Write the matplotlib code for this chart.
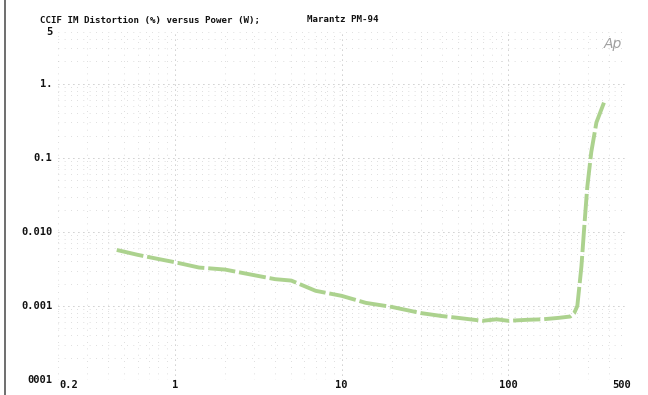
"""
CCIF IM distortion vs power, Marantz PM-94 -- redraw of a scanned Audio Precision plot.
"""

import matplotlib
matplotlib.use("Agg")
import matplotlib.pyplot as plt
from matplotlib.lines import Line2D

# ── Data ──────────────────────────────────────────────────────────────────────
power_w = [0.45, 0.6, 0.8, 1.0, 1.4, 2.0, 3.0, 4.0, 5.0, 7.0, 10.0, 14.0, 20.0,
           30.0, 40.0, 50.0, 70.0, 85.0, 100.0, 130.0, 160.0, 200.0, 235.0,
           248.0, 259.0, 274.0, 285.0, 297.0, 314.0, 337.0, 381.0]
distortion_pct = [0.0057, 0.0049, 0.0043, 0.0039, 0.0033, 0.0031, 0.0026, 0.0023,
                  0.0022, 0.0016, 0.00137, 0.0011, 0.00097, 0.0008, 0.00073,
                  0.00069, 0.00063, 0.00066, 0.00063, 0.00065, 0.00066, 0.00069,
                  0.00072, 0.0008, 0.001, 0.0034, 0.0117, 0.04, 0.12, 0.3, 0.62]

x_ticks = [0.2, 1, 10, 100, 500]
x_labels = ["0.2", "1", "10", "100", "500"]
y_ticks = [0.0001, 0.001, 0.01, 0.1, 1, 5]
y_labels = ["0001", "0.001", "0.010", "0.1", "1.", "5"]

title_left = "CCIF IM Distortion (%) versus Power (W);"
title_right = "Marantz PM-94"

# ── Figure ────────────────────────────────────────────────────────────────────
fig = plt.figure(figsize=(6.48, 3.95), dpi=100)
fig.patch.set_facecolor("white")
ax = fig.add_axes([58 / 648, 1 - 380 / 395, 567 / 648, 348 / 395])
ax.set_xscale("log")
ax.set_yscale("log")
ax.set_xlim(0.2, 500)
ax.set_ylim(0.0001, 5)
for s in ax.spines.values():
    s.set_visible(False)
ax.tick_params(which="both", length=0, labelleft=False, labelbottom=False)

# faint dotted grid, like the plotter's dot pattern
ax.grid(which="major", color="#9a9a9a", lw=0.6, ls=(0, (1, 5)))
ax.grid(which="minor", color="#c0c0c0", lw=0.5, ls=(0, (1, 8)))

ax.plot(power_w, distortion_pct, color="#acd28e", lw=2.8,
        ls=(0, (7, 1)), solid_capstyle="butt")

mono = dict(family="DejaVu Sans Mono", weight="bold", color="#111111")

for t, lab in zip(y_ticks, y_labels):
    ax.text(-0.01, t, lab, transform=ax.get_yaxis_transform(),
            ha="right", va="center", fontsize=7.5, **mono)
for t, lab in zip(x_ticks, x_labels):
    ha = "center"
    xx = t
    if lab == "0.2":
        ha = "left"
        xx = 0.205
    elif lab == "500":
        xx = 480
    ax.text(xx, 0.0, lab, transform=ax.get_xaxis_transform(),
            ha=ha, va="top", fontsize=7.5, **mono)

fig.text(40 / 648, 1 - 20 / 395, title_left, ha="left", va="center",
         fontsize=6.6, **mono)
fig.text(307 / 648, 1 - 20 / 395, title_right, ha="left", va="center",
         fontsize=6.6, **mono)
fig.text(604 / 648, 1 - 44 / 395, "Ap", ha="left", va="center",
         fontsize=10, color="#a0a0a0", style="italic")

# dark scan edge on the left
fig.add_artist(Line2D([5 / 648, 5 / 648], [0, 1], color="#555555", lw=1.2,
                      transform=fig.transFigure))

plt.savefig("out.png", dpi=100)
